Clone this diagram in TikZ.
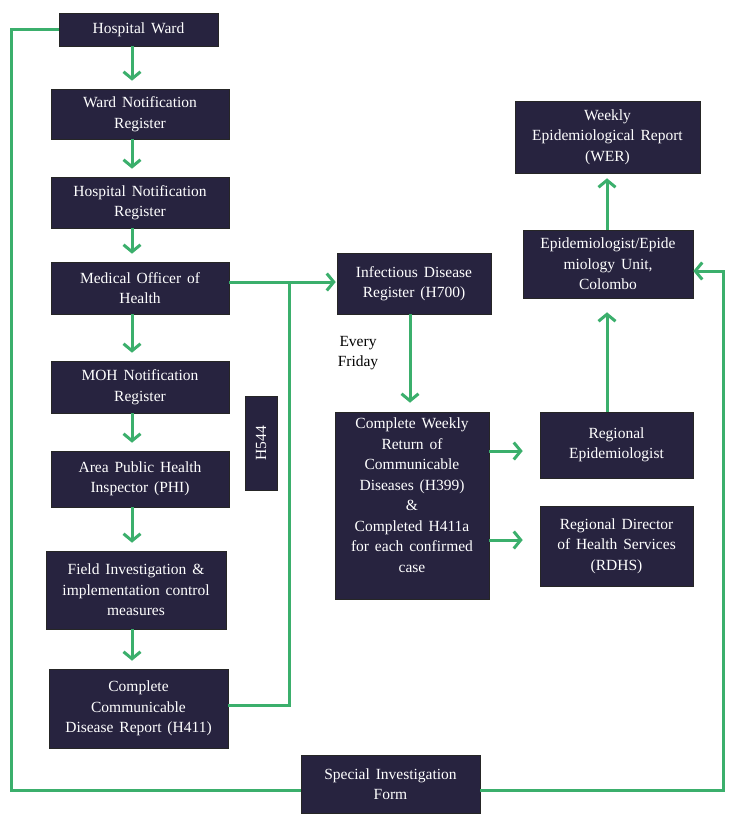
\documentclass[tikz,border=0pt]{standalone}
\usepackage{fontspec}
\setmainfont{Liberation Serif}
\usetikzlibrary{arrows.meta}
\definecolor{gr}{HTML}{3BAF6C}
\definecolor{bx}{HTML}{27233F}
\newcommand\boxfont{\fontsize{15.5}{20.5}\selectfont\spaceskip=0.38em\relax}
\begin{document}
\begin{tikzpicture}[x=1pt,y=-1pt,
  box/.style={fill=bx, draw=black!85, line width=0.6pt, text=white, align=center, inner sep=0pt,
    font=\boxfont},
  conn/.style={draw=gr, line width=3pt},
  arr/.style={conn, -{Straight Barb[length=7pt,width=17pt,line width=3pt]}},
  lbl/.style={align=center, font=\boxfont}]
\useasboundingbox (0,0) rectangle (736,821);

\node[box, minimum width=159pt, minimum height=33pt] (hw) at (138.5,29.5) {Hospital Ward};
\node[box, minimum width=178pt, minimum height=50pt] (wnr) at (140,114) {Ward Notification\\Register};
\node[box, minimum width=178pt, minimum height=51pt] (hnr) at (140,202.5) {Hospital Notification\\Register};
\node[box, minimum width=178pt, minimum height=52pt] (moh) at (140,288) {Medical Officer of\\Health};
\node[box, minimum width=178pt, minimum height=52pt] (mohnr) at (140,387) {MOH Notification\\Register};
\node[box, minimum width=178pt, minimum height=56pt] (phi) at (140,479) {Area Public Health\\Inspector (PHI)};
\node[box, minimum width=180pt, minimum height=78pt] (fi) at (136,590) {Field Investigation \&\\implementation control\\measures};
\node[box, minimum width=179pt, minimum height=79pt] (h411) at (138.5,708.5) {Complete\\Communicable\\Disease Report (H411)};
\node[box, minimum width=32pt, minimum height=94pt] (h544) at (261,443) {};
\node[text=white, rotate=90, font=\boxfont] (h544t) at (h544.center) {H544};
\node[box, minimum width=154pt, minimum height=61pt] (idr) at (414,283.5) {Infectious Disease\\Register (H700)};
\node[box, minimum width=154pt, minimum height=187pt] (cwr) at (412,505.5) {};
\node[text=white, lbl] (cwrt) at (412,495) {Complete Weekly\\Return of\\Communicable\\Diseases (H399)\\\&\\Completed H411a\\for each confirmed\\case};
\node[box, minimum width=153pt, minimum height=66pt] (re) at (616.5,445) {Regional\\Epidemiologist};
\node[box, minimum width=153pt, minimum height=80pt] (rdhs) at (616.5,546) {Regional Director\\of Health Services\\(RDHS)};
\node[box, minimum width=170pt, minimum height=68pt] (epi) at (608,264) {Epidemiologist/Epide\\miology Unit,\\Colombo};
\node[box, minimum width=185pt, minimum height=72pt] (wer) at (607.5,137) {Weekly\\Epidemiological Report\\(WER)};
\node[box, minimum width=179pt, minimum height=58pt] (sif) at (390.5,784) {Special Investigation\\Form};
\node[lbl] (fri) at (358,353) {Every\\Friday};

\coordinate (cx) at (132,0);
\coordinate (j) at (289,282);
\coordinate (c410) at (410,0);
\coordinate (a1) at (0,451);
\coordinate (a2) at (0,540);
\coordinate (c607) at (607,0);

\foreach \a/\b in {hw/wnr, wnr/hnr, hnr/moh, moh/mohnr, mohnr/phi, phi/fi, fi/h411}
  \draw[arr, shorten >=8pt] (\a.south -| cx) -- (\b.north -| cx);

\draw[conn] (hw.west) -- ++(-47,0) |- ([yshift=-6pt]sif.west);
\draw[arr, shorten >=1pt] (moh.east |- j) -- (idr.west |- j);
\draw[conn] ([yshift=3pt]h411.east) -| (j);
\draw[arr] ([yshift=-6pt]sif.east) -- ++(243,0) |- ([yshift=-7pt]epi.east);
\draw[arr, shorten >=9pt] (idr.south -| c410) -- (cwr.north -| c410);
\draw[arr, shorten >=17pt] (cwr.east |- a1) -- (re.west |- a1);
\draw[arr, shorten >=17pt] (cwr.east |- a2) -- (rdhs.west |- a2);
\draw[arr, shorten >=14pt] (re.north -| c607) -- (epi.south -| c607);
\draw[arr, shorten >=5pt] (epi.north -| c607) -- (wer.south -| c607);
\end{tikzpicture}
\end{document}
